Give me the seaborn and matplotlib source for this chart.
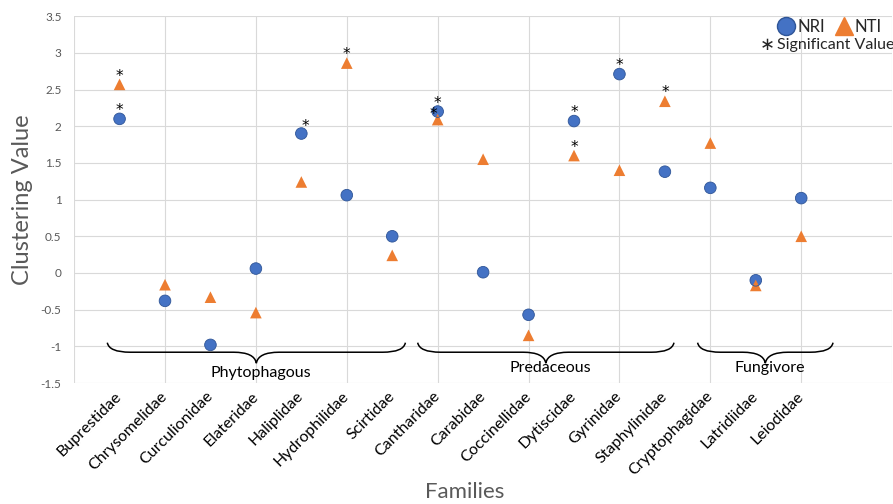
import numpy as np
import pandas as pd
import matplotlib
matplotlib.use('Agg')
import matplotlib.pyplot as plt
from matplotlib.path import Path
from matplotlib.patches import PathPatch
from matplotlib.lines import Line2D
import seaborn as sns

families = ['Buprestidae', 'Chrysomelidae', 'Curculionidae', 'Elateridae', 'Haliplidae',
            'Hydrophilidae', 'Scirtidae', 'Cantharidae', 'Carabidae', 'Coccinellidae',
            'Dytiscidae', 'Gyrinidae', 'Staphylinidae', 'Cryptophagidae', 'Latridiidae',
            'Leiodidae']
nri = [2.10, -0.38, -0.98, 0.06, 1.90, 1.06, 0.50, 2.20, 0.01, -0.57, 2.07, 2.71, 1.38,
       1.16, -0.10, 1.02]
nti = [2.57, -0.16, -0.33, -0.54, 1.24, 2.86, 0.24, 2.09, 1.55, -0.85, 1.60, 1.40, 2.34,
       1.77, -0.17, 0.50]
# significant values (1 = marked with asterisk)
nri_sig = [1, 0, 0, 0, 1, 0, 0, 1, 0, 0, 1, 1, 0, 0, 0, 0]
nti_sig = [1, 0, 0, 0, 0, 1, 0, 1, 0, 0, 1, 0, 1, 0, 0, 0]

groups = ['Phytophagous', 'Predaceous', 'Fungivore']
group_spans = [(0.73, 7.29), (7.56, 13.2), (13.72, 16.7)]

x = np.arange(1, len(families) + 1)
df = pd.concat([
    pd.DataFrame({'x': x, 'value': nri, 'index': 'NRI', 'sig': nri_sig}),
    pd.DataFrame({'x': x, 'value': nti, 'index': 'NTI', 'sig': nti_sig}),
])

sns.set_style('white')
plt.rcParams['font.family'] = ['Lato', 'DejaVu Sans']

blue = '#4472C4'
orange = '#ED7D31'
gray = '#595959'

fig = plt.figure(figsize=(8.93, 5.04), dpi=100)
ax = fig.add_axes([0.083, 0.24, 0.916, 0.728])

sns.scatterplot(data=df, x='x', y='value', hue='index', style='index',
                palette={'NRI': blue, 'NTI': orange}, markers={'NRI': 'o', 'NTI': '^'},
                s=70, edgecolor=None, linewidth=0, legend=False, ax=ax, zorder=3)
# darker rim on circles
ax.scatter(x, nri, s=70, facecolor='none', edgecolor='#2F5597', linewidth=0.6, zorder=4)

# asterisks
offsets = {('NRI', 5): (3, 5), ('NTI', 8): (-3, 4)}
for _, r in df[df['sig'] == 1].iterrows():
    dx, dy = offsets.get((r['index'], int(r['x'])), (0, 6))
    ax.annotate('*', (r['x'], r['value']), xytext=(dx, dy), textcoords='offset points',
                ha='center', va='center', fontsize=11, color='black',
                family=['DejaVu Sans'], zorder=5)

ax.set_xlim(0, 18)
ax.set_ylim(-1.5, 3.5)
# labels on the families, grid every two positions
ax.xaxis.remove_overlapping_locs = False
ax.set_xticks(x)
ax.set_xticklabels(families, rotation=45, ha='right', va='center',
                   rotation_mode='anchor', fontsize=11.5, color='black')
ax.set_xticks(np.arange(0, 19, 2), minor=True)
ax.set_yticks(np.arange(-1.5, 3.51, 0.5))
ax.set_yticklabels([f'{v:g}' for v in np.arange(-1.5, 3.51, 0.5)], fontsize=8.5, color=gray)
ax.tick_params(axis='x', which='both', length=0, pad=8)
ax.tick_params(axis='y', length=0, pad=9)
ax.grid(False)
ax.grid(True, axis='x', which='minor', color='#D9D9D9', linewidth=0.8)
ax.grid(True, axis='y', which='major', color='#D9D9D9', linewidth=0.8)
ax.set_axisbelow(True)
for s in ax.spines.values():
    s.set_visible(False)

ax.set_xlabel('Families', fontsize=16, color=gray)
ax.set_ylabel('Clustering Value', fontsize=17, color=gray)
ax.xaxis.label.set_va('center')
ax.xaxis.set_label_coords(0.478, -0.297)
ax.yaxis.set_label_coords(-0.05, 0.5)

# curly braces under groups
ytop, ymid, ybot = -0.95, -1.08, -1.23
for name, (x0, x1) in zip(groups, group_spans):
    xt = (x0 + x1) / 2
    verts = [(x0, ytop), (x0 + 0.04, ymid), (x0 + 0.5, ymid),
             (xt - 0.5, ymid),
             (xt - 0.04, ymid), (xt, ybot),
             (xt + 0.04, ymid), (xt + 0.5, ymid),
             (x1 - 0.5, ymid),
             (x1 - 0.04, ymid), (x1, ytop)]
    codes = [Path.MOVETO, Path.CURVE3, Path.CURVE3, Path.LINETO,
             Path.CURVE3, Path.CURVE3, Path.CURVE3, Path.CURVE3,
             Path.LINETO, Path.CURVE3, Path.CURVE3]
    ax.add_patch(PathPatch(Path(verts, codes), facecolor='none', edgecolor='black',
                           linewidth=1.1, zorder=2))
    ly = -1.36 if name == 'Phytophagous' else -1.30
    ax.text(xt + 0.1, ly, name, ha='center', va='center', fontsize=11.5, color='black')

handles = [Line2D([], [], marker='o', color='none', markerfacecolor=blue,
                  markeredgecolor='#2F5597', markersize=13, label='NRI'),
           Line2D([], [], marker='^', color='none', markerfacecolor=orange,
                  markeredgecolor=orange, markersize=13, label='NTI')]
fig.legend(handles=handles, loc='upper right', bbox_to_anchor=(0.995, 0.975), ncol=2,
           frameon=False, fontsize=12, handletextpad=0.0, columnspacing=0.5,
           handlelength=1.3, borderaxespad=0)
fig.text(0.851, 0.91, '\u2217', fontsize=13, ha='left', va='center', family=['DejaVu Sans'])
fig.text(0.870, 0.91, 'Significant Value', fontsize=11.5, ha='left', va='center')

fig.savefig('out.png', dpi=100)
